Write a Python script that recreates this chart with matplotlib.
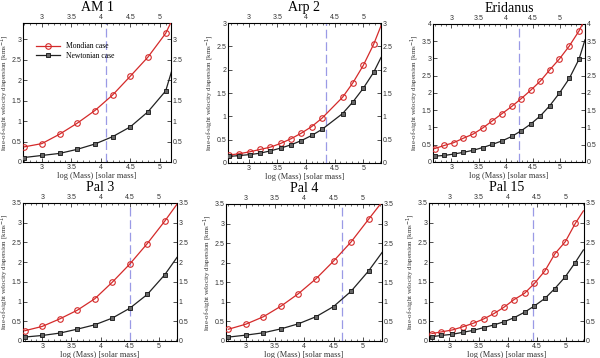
import matplotlib
matplotlib.use('Agg')
import matplotlib.pyplot as plt
from matplotlib.ticker import MultipleLocator, FormatStrFormatter

# ---- values (last point of each series = curve at the right edge)
titles = ['AM 1', 'Arp 2', 'Eridanus', 'Pal 3', 'Pal 4', 'Pal 15']

am1_x = [2.7, 3.0, 3.3, 3.6, 3.9, 4.2, 4.5, 4.8, 5.1, 5.2]
am1_mond = [0.37, 0.45, 0.68, 0.95, 1.26, 1.64, 2.10, 2.57, 3.15, 3.45]
am1_newt = [0.11, 0.16, 0.21, 0.31, 0.44, 0.62, 0.86, 1.23, 1.74, 2.22]

arp2_x = [2.66, 2.84, 3.02, 3.20, 3.38, 3.56, 3.74, 3.92, 4.10, 4.28, 4.64, 4.82, 5.00, 5.18, 5.31]
arp2_mond = [0.17, 0.20, 0.24, 0.29, 0.34, 0.42, 0.52, 0.64, 0.78, 0.96, 1.41, 1.72, 2.09, 2.54, 2.94]
arp2_newt = [0.14, 0.16, 0.18, 0.21, 0.26, 0.32, 0.39, 0.48, 0.59, 0.72, 1.06, 1.31, 1.60, 1.94, 2.26]

eri_x = [2.69, 2.87, 3.04, 3.22, 3.40, 3.58, 3.75, 3.93, 4.11, 4.28, 4.46, 4.64, 4.81, 4.99, 5.17, 5.35, 5.46]
eri_mond = [0.39, 0.48, 0.56, 0.69, 0.81, 0.99, 1.19, 1.40, 1.61, 1.83, 2.08, 2.35, 2.67, 2.99, 3.36, 3.80, 4.15]
eri_newt = [0.17, 0.19, 0.23, 0.28, 0.34, 0.42, 0.51, 0.61, 0.74, 0.90, 1.10, 1.34, 1.63, 2.00, 2.42, 2.98, 3.54]

pal3_x = [2.7, 3.0, 3.3, 3.6, 3.9, 4.2, 4.5, 4.8, 5.1, 5.31]
pal3_mond = [0.26, 0.37, 0.56, 0.78, 1.07, 1.49, 1.95, 2.47, 3.04, 3.47]
pal3_newt = [0.10, 0.14, 0.20, 0.30, 0.41, 0.58, 0.83, 1.18, 1.68, 2.12]

pal4_x = [2.7, 3.0, 3.3, 3.6, 3.9, 4.2, 4.5, 4.8, 5.1, 5.33]
pal4_mond = [0.30, 0.43, 0.62, 0.89, 1.21, 1.59, 2.04, 2.53, 3.11, 3.55]
pal4_newt = [0.10, 0.15, 0.21, 0.31, 0.44, 0.62, 0.88, 1.27, 1.79, 2.26]

pal15_x = [2.70, 2.86, 3.05, 3.23, 3.41, 3.59, 3.77, 3.94, 4.11, 4.29, 4.46, 4.64, 4.81, 4.99, 5.16, 5.30]
pal15_mond = [0.19, 0.23, 0.28, 0.36, 0.45, 0.56, 0.70, 0.86, 1.05, 1.21, 1.46, 1.78, 2.21, 2.52, 2.98, 3.30]
pal15_newt = [0.11, 0.14, 0.17, 0.22, 0.27, 0.34, 0.41, 0.49, 0.59, 0.73, 0.89, 1.08, 1.33, 1.63, 1.99, 2.31]

xlims = [(2.68, 5.19), (2.64, 5.31), (2.66, 5.46), (2.67, 5.31), (2.66, 5.33), (2.65, 5.31)]
ylims = [3.4, 3.0, 4.0, 3.5, 3.5, 3.5]
vlines = [4.09, 4.35, 4.25, 4.50, 4.65, 4.44]

# axes boxes in figure fractions (left, bottom, width, height)
boxes = [(0.0383, 0.5475, 0.2467, 0.388), (0.380, 0.5447, 0.255, 0.391), (0.7217, 0.5475, 0.2533, 0.3855),
         (0.0383, 0.0475, 0.2567, 0.3855), (0.3767, 0.0475, 0.26, 0.3827), (0.715, 0.0475, 0.2583, 0.3855)]

series = [(am1_x, am1_mond, am1_newt), (arp2_x, arp2_mond, arp2_newt), (eri_x, eri_mond, eri_newt),
          (pal3_x, pal3_mond, pal3_newt), (pal4_x, pal4_mond, pal4_newt), (pal15_x, pal15_mond, pal15_newt)]

SERIF = 'Liberation Serif'
SANS = 'Liberation Sans'
RED = '#d42a2a'

fig = plt.figure(figsize=(6, 3.58), dpi=100)

for i, (title, (x, mond, newt)) in enumerate(zip(titles, series)):
    ax = fig.add_axes(boxes[i])
    marks = list(range(len(x) - 1))   # no marker on the edge point
    ax.plot(x, mond, color=RED, lw=0.9, marker='o', ms=4, mfc='none', mec=RED, mew=0.8,
            markevery=marks, label='Mondian case', zorder=3)
    ax.plot(x, newt, color='#222222', lw=0.9, marker='s', ms=2.6, mfc='#666666', mec='#111111', mew=0.6,
            markevery=marks, label='Newtonian case', zorder=3)
    ax.axvline(vlines[i], color='#9a9ae6', lw=0.9, ls=(0, (7, 3)), zorder=2)

    ax.set_xlim(*xlims[i])
    ax.set_ylim(0, ylims[i])
    ax.xaxis.set_major_locator(MultipleLocator(0.5))
    ax.xaxis.set_minor_locator(MultipleLocator(0.1))
    ax.yaxis.set_major_locator(MultipleLocator(0.5))
    ax.xaxis.set_major_formatter(FormatStrFormatter('%g'))
    ax.yaxis.set_major_formatter(FormatStrFormatter('%g'))
    ax.tick_params(which='both', direction='in', top=True, right=True,
                   labeltop=True, labelright=True, labelsize=5, pad=1.2, colors='#333333')
    ax.tick_params(which='major', length=3, width=0.6)
    ax.tick_params(which='minor', length=1.5, width=0.5)
    for lab in ax.get_xticklabels() + ax.get_yticklabels():
        lab.set_fontfamily(SANS)
    for sp in ax.spines.values():
        sp.set_linewidth(0.8)

    ax.set_title(title, fontsize=10, family=SERIF, pad=2.5)
    ax.set_xlabel('log (Mass) [solar mass]', fontsize=6, family=SERIF, labelpad=1, color='#333333')
    ax.set_ylabel('line-of-sight velocity dispersion [kms$^{-1}$]', fontsize=5, family=SERIF,
                  color='#333333')
    # label sits just left of the tick labels, about 12 px from the left spine
    ax.yaxis.set_label_coords(-12.0 / (boxes[i][2] * 600), 0.5)

    if i == 0:
        ax.legend(loc='upper left', bbox_to_anchor=(0.04, 0.91), frameon=False,
                  handlelength=3.2, labelspacing=0.2, prop={'family': SERIF, 'size': 5.5})

fig.savefig('out.png', dpi=100)
